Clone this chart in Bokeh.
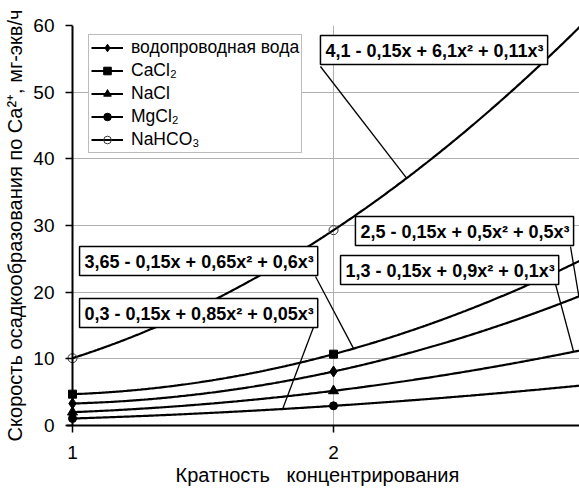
import numpy as np
from bokeh.plotting import figure
from bokeh.models import Range1d, FixedTicker, Span, Label, Legend, LegendItem
from bokeh.embed import file_html
from bokeh.resources import INLINE

# Кратность концентрирования
x_points = [1, 2, 3]

# Скорость осадкообразования по Ca2+, мг-экв/ч
tap_water = [3.3, 8.1, 20.3]
cacl2 = [4.7, 10.7, 25.8]
nacl = [2.0, 5.2, 11.7]
mgcl2 = [1.05, 2.95, 6.2]
nahco3 = [10.1, 29.3, 62.0]

series_names = ["водопроводная вода", "CaCl₂", "NaCl", "MgCl₂", "NaHCO₃"]

x_ticks = [1, 2]
y_ticks = [0, 10, 20, 30, 40, 50, 60]

x_title = "Кратность\u00a0\u00a0 концентрирования\u00a0\u00a0"
y_title = "Скорость осадкообразования по Ca²⁺, мг-экв/ч"

# trendline equations printed on the chart
eq_nahco3 = "4,1 - 0,15x + 6,1x² + 0,11x³"
eq_cacl2 = "3,65 - 0,15x + 0,65x² + 0,6x³"
eq_mgcl2 = "0,3 - 0,15x + 0,85x² + 0,05x³"
eq_water = "2,5 - 0,15x + 0,5x² + 0,5x³"
eq_nacl = "1,3 - 0,15x + 0,9x² + 0,1x³"

FONT = "Liberation Sans"
X0 = 1 - 6 / 261  # small margin so markers at x=1 are not clipped

p = figure(width=579, height=489, output_backend="svg", toolbar_location=None,
           x_range=Range1d(X0, 2.9425), y_range=Range1d(0, 60),
           min_border_left=66, min_border_right=0, min_border_top=25,
           min_border_bottom=64)
p.outline_line_color = None
p.background_fill_color = "white"
p.border_fill_color = "white"

# axes
for ax in (p.xaxis[0], p.yaxis[0]):
    ax.major_label_text_font = FONT
    ax.major_label_text_font_size = "19px"
    ax.major_label_text_color = "black"
    ax.axis_label_text_font = FONT
    ax.axis_label_text_font_size = "20px"
    ax.axis_label_text_font_style = "normal"
    ax.axis_label_text_color = "black"
    ax.major_tick_line_color = "black"
    ax.major_tick_line_width = 1.5
    ax.minor_tick_line_color = None

p.xaxis.ticker = FixedTicker(ticks=x_ticks)
p.yaxis.ticker = FixedTicker(ticks=y_ticks)
p.xaxis.axis_line_color = "black"
p.xaxis.axis_line_width = 2
p.xaxis.major_tick_out = 7
p.xaxis.major_tick_in = 0
p.xaxis.major_label_standoff = 13
p.xaxis.axis_label_standoff = 2
p.xaxis.axis_label = x_title

p.yaxis.axis_line_color = None
p.yaxis.major_tick_in = 6
p.yaxis.major_tick_out = 1
p.yaxis.major_label_standoff = 11
p.yaxis.axis_label_standoff = 4
p.yaxis.axis_label = y_title

p.xgrid.ticker = FixedTicker(ticks=x_ticks)
p.ygrid.ticker = FixedTicker(ticks=y_ticks)
p.xgrid.grid_line_color = "#b0b0b0"
p.ygrid.grid_line_color = "#b0b0b0"
p.xgrid.grid_line_width = 1
p.ygrid.grid_line_width = 1

# vertical axis line at x = 1
p.add_layout(Span(location=1, dimension="height", line_color="black", line_width=2))

xs = np.linspace(1, 3, 300)


def trend(vals):
    return np.polyfit(x_points, vals, 2)


series = [
    (tap_water, "diamond", 11, "black"),
    (cacl2, "square", 8, "black"),
    (nacl, "triangle", 10, "black"),
    (mgcl2, "circle", 8, "black"),
    (nahco3, "circle", 9, None),
]

items = []
fits = []
for (vals, marker, size, fill), name in zip(series, series_names):
    c = trend(vals)
    fits.append(c)
    lr = p.line(xs, np.polyval(c, xs), line_color="black", line_width=2.2)
    if fill is None:
        sr = p.scatter(x_points, vals, marker=marker, size=size, fill_color=None,
                       line_color="#333333", line_width=1)
    else:
        sr = p.scatter(x_points, vals, marker=marker, size=size, fill_color=fill,
                       line_color="black", line_width=1)
    items.append(LegendItem(label=name, renderers=[lr, sr]))

fit_water, fit_cacl2, fit_nacl, fit_mgcl2, fit_nahco3 = fits

legend = Legend(items=items, location=(22, 272), orientation="vertical",
                label_text_font=FONT, label_text_font_size="17.5px",
                label_text_color="black", glyph_width=32, glyph_height=19,
                label_height=19, label_standoff=8, spacing=2, padding=2, margin=0,
                border_line_color="#7a7a7a", border_line_width=1,
                background_fill_color="white", background_fill_alpha=1)
p.add_layout(legend)

# leader lines from equation boxes to the curves
leaders = [
    ((1.950, 53.85), 2.28, fit_nahco3),
    ((1.931, 22.35), 2.077, fit_cacl2),
    ((1.923, 14.7), 1.805, fit_mgcl2),
    ((2.908, 26.85), 2.94, fit_water),
    ((2.851, 21.15), 2.92, fit_nacl),
]
for (sx, sy), ex, c in leaders:
    p.line([sx, ex], [sy, float(np.polyval(c, ex))], line_color="black", line_width=1.3)

# equation boxes
boxes = [
    (eq_nahco3, 1.950, 58.5),
    (eq_cacl2, 1.027, 26.85),
    (eq_mgcl2, 1.027, 19.05),
    (eq_water, 2.084, 31.35),
    (eq_nacl, 2.027, 25.5),
]
for txt, bx, by in boxes:
    p.add_layout(Label(x=bx, y=by, text=txt, anchor="top_left",
                       text_font=FONT, text_font_size="18px", text_font_style="bold",
                       text_color="black", background_fill_color="white",
                       background_fill_alpha=1, border_line_color="black",
                       border_line_width=1.5, padding=(5, 4, 5, 4)))

open("out.html", "w").write(file_html(p, INLINE))
